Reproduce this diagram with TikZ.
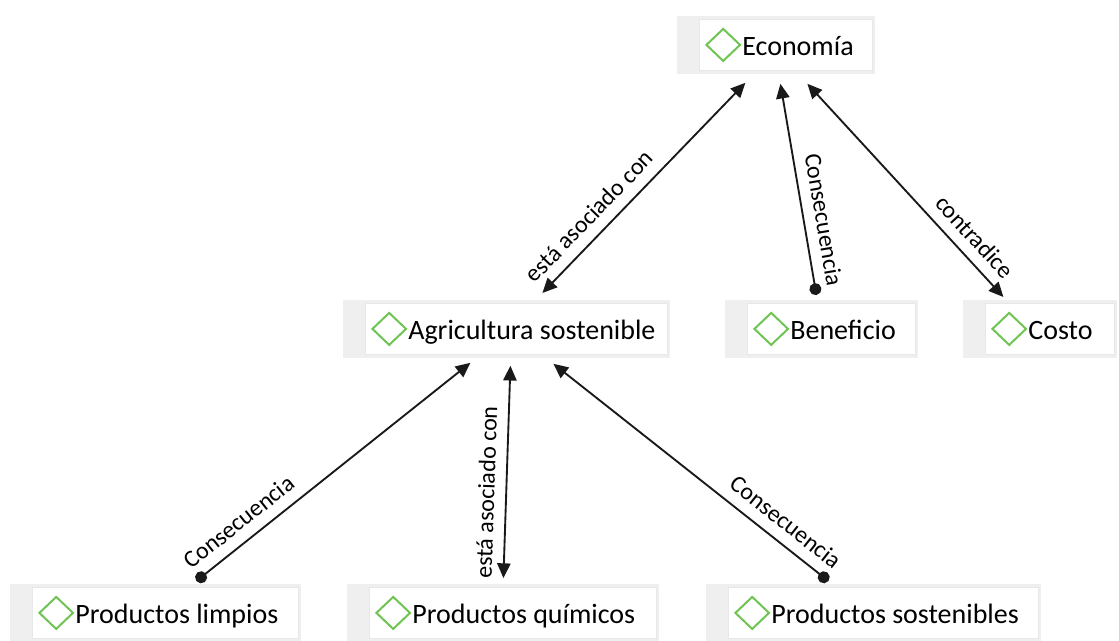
\documentclass[tikz,border=0pt]{standalone}
\usepackage{fontspec}
\setmainfont{Carlito}
\usepackage{xcolor}
\usepackage{tikz}
\usetikzlibrary{arrows.meta,calc,backgrounds}

\definecolor{conceptgreen}{RGB}{112,196,84}
\definecolor{framegray}{RGB}{239,239,239}
\definecolor{linkgray}{RGB}{25,25,25}

\newcommand{\conceptmark}{\tikz[baseline=0pt]\draw[conceptgreen, line width=1.5pt, line join=miter] (0pt,8pt) -- (12.6pt,20pt) -- (25.2pt,8pt) -- (12.6pt,-4pt) -- cycle;\hspace{1pt}}

\begin{document}
\begin{tikzpicture}[x=0.75pt, y=-0.75pt,
	concept/.style={fill=white, draw=gray!18, line width=0.6pt, anchor=north west, minimum height=38.25pt, inner xsep=4.5pt, inner ysep=0pt, align=flush left, font=\fontsize{21}{25}\selectfont},
	link/.style={draw=linkgray, line width=1.4pt},
	consec/.style={link, arrows={Circle[length=9pt]-Triangle[length=11pt,width=10pt]}},
	assoc/.style={link, arrows={Triangle[length=11pt,width=10pt]-Triangle[length=11pt,width=10pt]}},
	linklabel/.style={sloped, above, inner sep=8pt, font=\fontsize{18}{20}\selectfont}]

	\useasboundingbox (0,0) rectangle (1119,641);

	\node[concept, text width=120.75pt] (eco) at (699,19) {\conceptmark Economía};
	\node[concept, text width=217.5pt] (agr) at (365,303) {\conceptmark Agricultura sostenible};
	\node[concept, text width=117pt] (ben) at (747,303) {\conceptmark Beneficio};
	\node[concept, text width=87.75pt] (cos) at (985,303) {\conceptmark Costo};
	\node[concept, text width=190.5pt] (lim) at (32,587) {\conceptmark Productos limpios};
	\node[concept, text width=206.25pt] (qui) at (369,587) {\conceptmark Productos químicos};
	\node[concept, text width=223.5pt] (sos) at (728,587) {\conceptmark Productos sostenibles};

	\begin{scope}[on background layer]
		\foreach \n in {eco,agr,ben,cos,lim,qui,sos}
			\fill[framegray] ($(\n.north west)+(-22,-3)$) rectangle ($(\n.south east)+(2,3)$);
	\end{scope}

	\draw[assoc] ($(agr.north)+(26,-10)$) -- node[linklabel, pos=0.3] {está asociado con} ($(eco.south)+(-40.5,12)$);
	\draw[consec] ($(ben.north)+(-15,-8)$) -- node[linklabel, pos=0.34] {Consecuencia} ($(eco.south)+(-5.5,13)$);
	\draw[assoc] ($(eco.south)+(21.5,13)$) -- node[linklabel, pos=0.78] {contradice} ($(cos.north)+(-46.5,-6)$);
	\draw[consec] ($(lim.north)+(31,-6)$) -- node[linklabel, pos=0.2] {Consecuencia} ($(agr.south)+(-46,8)$);
	\draw[assoc] ($(qui.north)+(-9.5,-9)$) -- node[linklabel, pos=0.4] {está asociado con} ($(agr.south)+(-6,11)$);
	\draw[consec] ($(sos.north)+(-55,-6)$) -- node[linklabel, pos=0.2] {Consecuencia} ($(agr.south)+(37,9)$);
\end{tikzpicture}
\end{document}
